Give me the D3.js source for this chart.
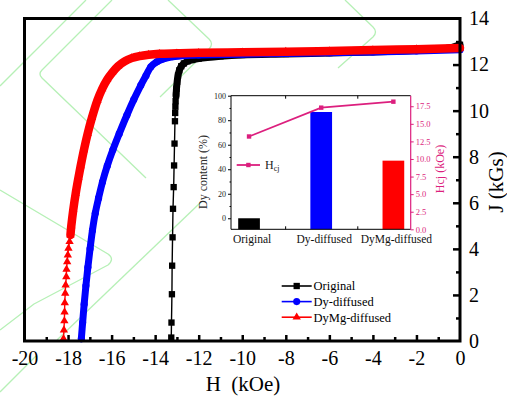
<!DOCTYPE html>
<html>
<head>
<meta charset="utf-8">
<script src="https://cdn.jsdelivr.net/npm/d3@7"></script>
<style>
  html, body { margin: 0; padding: 0; background: #fff; }
  svg { display: block; font-family: "Liberation Serif", "Times New Roman", serif; }
  svg text { font-family: "Liberation Serif", "Times New Roman", serif; }
</style>
</head>
<body>
<svg id="chart" width="507" height="400"></svg>
<script>
// ---- Demagnetization curves, J (kGs) against H (kOe) ----
const hOriginal = [-13.26, -13.25, -13.23, -13.22, -13.20, -13.18, -13.15, -13.13, -13.11, -13.09, -13.08, -13.07, -13.06, -13.04,
                   -13.02, -12.99, -12.95, -12.89, -12.80, -12.68, -12.52, -12.30, -12.0, -11.0, -10.0, -8.0, -6.0, -4.0, -2.0, -1.0, -0.5, 0];
const jOriginal = [0.15, 0.80, 2.03, 3.27, 4.50, 5.74, 6.68, 7.62, 8.57, 9.54, 9.90, 10.17, 10.41, 10.66,
                   10.95, 11.25, 11.52, 11.75, 11.93, 12.05, 12.14, 12.20, 12.26, 12.36, 12.42, 12.46, 12.50, 12.55, 12.61, 12.66, 12.72, 12.86];

const hDy = [-17.39, -17.33, -17.26, -17.18, -17.09, -16.99, -16.88, -16.75, -16.60, -16.42, -16.20, -15.94, -15.65, -15.30, -14.98,
             -14.66, -14.42, -14.20, -13.92, -13.62, -13.20, -12.50, -12.0, -10.0, -8.0, -6.0, -4.0, -2.0, 0];
const jDy = [0.10, 0.80, 1.60, 2.40, 3.20, 4.00, 4.80, 5.55, 6.20, 6.90, 7.60, 8.30, 9.00, 9.80, 10.48,
             11.10, 11.52, 11.90, 12.12, 12.25, 12.34, 12.40, 12.42, 12.45, 12.48, 12.51, 12.55, 12.59, 12.64];

const hDyMg = [-18.21, -18.19, -18.17, -18.16, -18.15, -18.13, -18.11, -18.08, -18.07, -18.04, -18.01, -17.98, -17.93, -17.89,
               -17.85, -17.76, -17.65, -17.52, -17.42, -17.27, -17.10, -16.90, -16.65, -16.43, -16.20, -15.97, -15.70, -15.42,
               -15.08, -14.72, -14.30, -13.80, -13.0, -12.0, -10.0, -8.0, -6.0, -4.0, -2.0, 0];
const jDyMg = [0.10, 0.47, 0.87, 1.26, 1.66, 2.07, 2.43, 2.79, 3.11, 3.44, 3.73, 4.02, 4.31, 4.60,
               5.00, 5.70, 6.40, 7.10, 7.60, 8.30, 9.00, 9.70, 10.45, 10.95, 11.35, 11.65, 11.93, 12.13,
               12.28, 12.37, 12.43, 12.47, 12.49, 12.51, 12.53, 12.56, 12.59, 12.63, 12.67, 12.72];

const seriesNames = ["Original", "Dy-diffused", "DyMg-diffused"];
const hTickLabels = [-20, -18, -16, -14, -12, -10, -8, -6, -4, -2, 0];
const jTickLabels = [0, 2, 4, 6, 8, 10, 12, 14];

// ---- Inset: Dy content (bars) and coercivity Hcj (line) ----
const insetCategories = ["Original", "Dy-diffused", "DyMg-diffused"];
const dyContent = [0, 86.7, 47];
const hcj = [13.2, 17.3, 18.15];
const dyTickLabels = [0, 20, 40, 60, 80, 100];
const hcjTickLabels = [0, 2.5, 5, 7.5, 10, 12.5, 15, 17.5];

const SERIF = "Liberation Serif, Times New Roman, serif";
const svg = d3.select("#chart");

// ---- faint green background ornament ----
const ornament = [
  "M0,86 L86,0",
  "M112,0 L42,70 Q38,74 42,78 L146,178",
  "M168,0 L209,39 Q214,44 209,49 L160,97",
  "M345,0 L373,27 Q378,32 373,37 L338,68",
  "M0,190 L108,254 Q115,259 108,265 L34,304 L0,330",
  "M57,340 L200,203",
  "M0,392 L36,356"
];
svg.append("g").selectAll("path").data(ornament).join("path")
  .attr("d", d => d).attr("fill", "none")
  .attr("stroke", "#b6f0b6").attr("stroke-width", 1.3).attr("stroke-linejoin", "round");

// ---- main scales ----
const x = d3.scaleLinear().domain([-20, 0]).range([24.5, 460]);
const y = d3.scaleLinear().domain([0, 14]).range([341, 18.5]);

// series styling: symbol, colour, band width where markers merge, J above which they merge
const styles = [
  { color: "#000000", symbol: d3.symbolSquare,   size: 40, band: 7, bandFrom: 10.6 },
  { color: "#0000ff", symbol: d3.symbolCircle,   size: 40, band: 7, bandFrom: 0 },
  { color: "#ff0000", symbol: d3.symbolTriangle, size: 30, band: 8.5, bandFrom: 4.6 }
];
const seriesData = [
  d3.zip(hOriginal, jOriginal),
  d3.zip(hDy, jDy),
  d3.zip(hDyMg, jDyMg)
];

const line = d3.line().curve(d3.curveCatmullRom.alpha(0.5)).x(d => x(d[0])).y(d => y(d[1]));

const plot = svg.append("g");
seriesData.forEach((pts, i) => {
  const s = styles[i];
  const g = plot.append("g");
  g.append("path").attr("d", line(pts))
    .attr("fill", "none").attr("stroke", s.color).attr("stroke-width", 1.4);
  g.append("path").attr("d", line(pts.filter(p => p[1] >= s.bandFrom)))
    .attr("fill", "none").attr("stroke", s.color).attr("stroke-width", s.band)
    .attr("stroke-linejoin", "round").attr("stroke-linecap", "round");
  g.selectAll("path.m").data(pts).join("path").attr("class", "m")
    .attr("d", d3.symbol().type(s.symbol).size(s.size))
    .attr("transform", d => `translate(${x(d[0])},${y(d[1])})`)
    .attr("fill", s.color);
});

// ---- frame ----
svg.append("rect")
  .attr("x", x(-20)).attr("y", y(14))
  .attr("width", x(0) - x(-20)).attr("height", y(0) - y(14))
  .attr("fill", "none").attr("stroke", "#000").attr("stroke-width", 3);

function styleTicks(g, w, color) {
  g.attr("font-family", SERIF);
  g.select(".domain").remove();
  g.selectAll(".tick line").attr("stroke", color || "#000").attr("stroke-width", w);
}
function styleLabels(g, size, color) {
  g.attr("font-family", SERIF);
  g.select(".domain").remove();
  g.selectAll("text").attr("font-size", size).attr("fill", color || "#000")
    .style("font-family", SERIF);
}

// bottom axis: inward ticks every 1 kOe, labels every 2
svg.append("g").attr("transform", `translate(0,${y(0)})`)
  .call(d3.axisBottom(x).tickValues(d3.range(-19, 0, 2)).tickSize(-4).tickFormat(""))
  .call(g => styleTicks(g, 2.5));
svg.append("g").attr("transform", `translate(0,${y(0)})`)
  .call(d3.axisBottom(x).tickValues(hTickLabels.slice(1, -1)).tickSize(-6).tickFormat(""))
  .call(g => styleTicks(g, 2.5));
svg.append("g").attr("transform", `translate(0,${y(0)})`)
  .call(d3.axisBottom(x).tickValues(hTickLabels).tickSize(0).tickPadding(10).tickFormat(d => String(d)))
  .call(g => styleLabels(g, 20));

// right axis: inward ticks every 1 kGs, labels every 2
svg.append("g").attr("transform", `translate(${x(0)},0)`)
  .call(d3.axisRight(y).tickValues(d3.range(1, 14, 2)).tickSize(-4).tickFormat(""))
  .call(g => styleTicks(g, 2.5));
svg.append("g").attr("transform", `translate(${x(0)},0)`)
  .call(d3.axisRight(y).tickValues(jTickLabels.slice(1, -1)).tickSize(-7).tickFormat(""))
  .call(g => styleTicks(g, 2.5));
svg.append("g").attr("transform", `translate(${x(0)},0)`)
  .call(d3.axisRight(y).tickValues(jTickLabels).tickSize(0).tickPadding(9).tickFormat(d => String(d)))
  .call(g => styleLabels(g, 20));

// axis titles
svg.append("text").attr("x", 243).attr("y", 391)
  .attr("text-anchor", "middle").attr("font-size", 21).style("white-space", "pre")
  .text("H  (kOe)");
svg.append("text").attr("transform", "translate(503,182) rotate(-90)")
  .attr("text-anchor", "middle").attr("font-size", 21)
  .text("J (kGs)");

// ---- main legend ----
const legend = svg.append("g");
seriesNames.forEach((name, i) => {
  const s = styles[i];
  const cy = 286 + i * 15.6;
  legend.append("line").attr("x1", 281.7).attr("x2", 311.7).attr("y1", cy).attr("y2", cy)
    .attr("stroke", s.color).attr("stroke-width", 1.6);
  legend.append("path").attr("d", d3.symbol().type(s.symbol).size(s.size)())
    .attr("transform", `translate(296.7,${cy})`).attr("fill", s.color);
  legend.append("text").attr("x", 313.5).attr("y", cy).attr("dy", "0.35em")
    .attr("font-size", 12.5).attr("fill", "#000").text(name);
});

// ---- inset ----
const pink = "#dc1f7e";
const xi = d3.scaleLinear().domain([0.75, 3.24]).range([231, 410.7]);
const yiL = d3.scaleLinear().domain([-9, 100]).range([229.3, 95.7]);
const yiR = d3.scaleLinear().domain([0, 19]).range([229.3, 95.7]);
const inset = svg.append("g");
const barColors = ["#000000", "#0000ff", "#ff0000"];
const barW = 21.7;

inset.selectAll("rect.bar").data(dyContent).join("rect").attr("class", "bar")
  .attr("x", (d, i) => xi(i + 1) - barW / 2)
  .attr("y", d => yiL(d))
  .attr("width", barW)
  .attr("height", d => yiL(-9) - yiL(d))
  .attr("fill", (d, i) => barColors[i]);

// inset frame: black left/top/bottom, pink right
inset.append("path")
  .attr("d", `M${xi.range()[1]},${yiL.range()[1]}H${xi.range()[0]}V${yiL.range()[0]}H${xi.range()[1]}`)
  .attr("fill", "none").attr("stroke", "#000").attr("stroke-width", 1);
inset.append("line")
  .attr("x1", xi.range()[1]).attr("x2", xi.range()[1])
  .attr("y1", yiR.range()[0]).attr("y2", yiR.range()[1])
  .attr("stroke", pink).attr("stroke-width", 1.2);

// left axis (Dy content)
inset.append("g").attr("transform", `translate(${xi.range()[0]},0)`)
  .call(d3.axisLeft(yiL).tickValues(dyTickLabels).tickSize(3).tickPadding(2))
  .call(g => { styleTicks(g, 1); styleLabels(g, 8, "#222"); });
inset.append("g").attr("transform", `translate(${xi.range()[0]},0)`)
  .call(d3.axisLeft(yiL).tickValues(d3.range(10, 100, 20)).tickSize(1.5).tickFormat(""))
  .call(g => styleTicks(g, 1));

// right axis (Hcj)
inset.append("g").attr("transform", `translate(${xi.range()[1]},0)`)
  .call(d3.axisRight(yiR).tickValues(hcjTickLabels).tickSize(3).tickPadding(2).tickFormat(d3.format(".1f")))
  .call(g => { styleTicks(g, 1, pink); styleLabels(g, 8.5, pink); });

// group separators on bottom and top
inset.append("g").attr("transform", `translate(0,${yiL.range()[0]})`)
  .call(d3.axisBottom(xi).tickValues([1.5, 2.5]).tickSize(-3).tickFormat(""))
  .call(g => styleTicks(g, 1));
inset.append("g").attr("transform", `translate(0,${yiL.range()[1]})`)
  .call(d3.axisTop(xi).tickValues([1.5, 2.5]).tickSize(-3).tickFormat(""))
  .call(g => styleTicks(g, 1));

// category labels
inset.selectAll("text.cat").data(insetCategories).join("text").attr("class", "cat")
  .attr("x", (d, i) => xi(i + 1) + 3).attr("y", 243)
  .attr("text-anchor", "middle").attr("font-size", 11.5).attr("fill", "#111")
  .text(d => d);

// Hcj line
const hcjLine = d3.line().x((d, i) => xi(i + 1)).y(d => yiR(d));
inset.append("path").attr("d", hcjLine(hcj))
  .attr("fill", "none").attr("stroke", pink).attr("stroke-width", 1.8);
inset.selectAll("rect.hm").data(hcj).join("rect").attr("class", "hm")
  .attr("x", (d, i) => xi(i + 1) - 2.2).attr("y", d => yiR(d) - 2.2)
  .attr("width", 4.4).attr("height", 4.4).attr("fill", pink);

// inset legend
inset.append("line").attr("x1", 236.7).attr("x2", 260).attr("y1", 165).attr("y2", 165)
  .attr("stroke", pink).attr("stroke-width", 1.8);
inset.append("rect").attr("x", 246.2).attr("y", 162.8).attr("width", 4.4).attr("height", 4.4).attr("fill", pink);
const lt = inset.append("text").attr("x", 265).attr("y", 169).attr("font-size", 12).attr("fill", "#222");
lt.append("tspan").text("H");
lt.append("tspan").attr("font-size", 8).attr("dy", 2).text("cj");

// inset axis titles
inset.append("text").attr("transform", "translate(207,172) rotate(-90)")
  .attr("text-anchor", "middle").attr("font-size", 12).attr("fill", "#2a2a2a")
  .text("Dy content (%)");
inset.append("text").attr("transform", "translate(444,169) rotate(-90)")
  .attr("text-anchor", "middle").attr("font-size", 12).attr("fill", pink)
  .text("Hcj (kOe)");
</script>
</body>
</html>
